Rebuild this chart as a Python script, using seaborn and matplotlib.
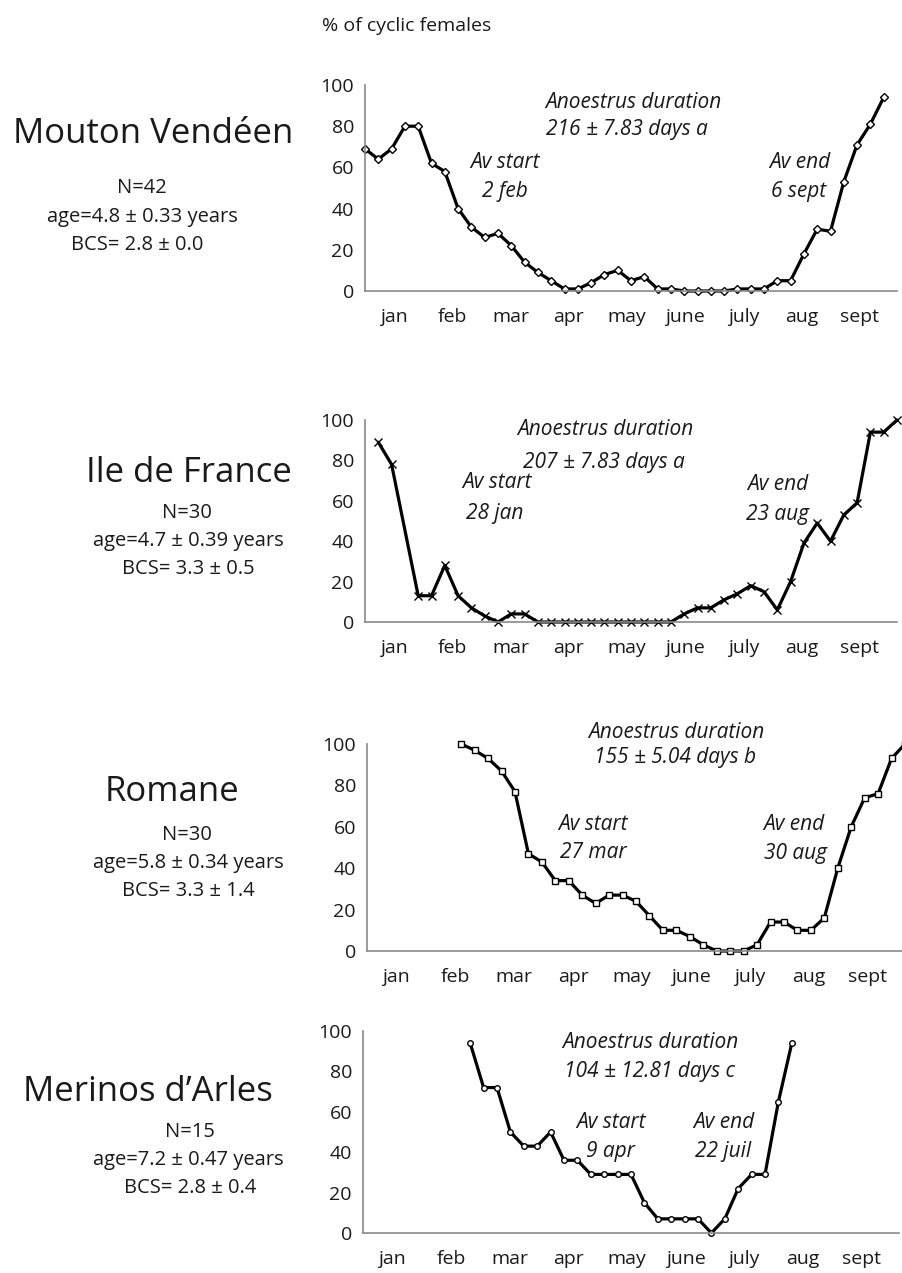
import matplotlib
matplotlib.use("Agg")
import matplotlib.pyplot as plt
import seaborn as sns

# weekly % of cyclic females, week 0 = 1 January
months = ["jan", "feb", "mar", "apr", "may", "june", "july", "aug", "sept"]

vendeen_weeks = list(range(0, 40))
vendeen_pct = [69, 64, 69, 80, 80, 62, 58, 40, 31, 26, 28, 22, 14, 9, 5, 1, 1, 4, 8, 10,
               5, 7, 1, 1, 0, 0, 0, 0, 1, 1, 1, 5, 5, 18, 30, 29, 53, 71, 81, 94]

idf_weeks = [1, 2] + list(range(4, 41))
idf_pct = [89, 78, 13, 13, 28, 13, 7, 3, 0, 4, 4, 0, 0, 0, 0, 0, 0, 0, 0, 0,
           0, 0, 4, 7, 7, 11, 14, 18, 15, 6, 20, 39, 49, 40, 53, 59, 94, 94, 100]

romane_weeks = list(range(7, 41))
romane_pct = [100, 97, 93, 87, 77, 47, 43, 34, 34, 27, 23, 27, 27, 24, 17, 10, 10, 7, 3, 0,
              0, 0, 3, 14, 14, 10, 10, 16, 40, 60, 74, 76, 93, 100]

merinos_weeks = list(range(8, 33))
merinos_pct = [94, 72, 72, 50, 43, 43, 50, 36, 36, 29, 29, 29, 29, 15, 7, 7, 7, 7, 0, 7,
               22, 29, 29, 65, 94]

breeds = ["Mouton Vendéen", "Ile de France", "Romane", "Merinos d\u2019Arles"]
n_ewes = ["N=42", "N=30", "N=30", "N=15"]
ages = ["age=4.8 ± 0.33 years", "age=4.7 ± 0.39 years", "age=5.8 ± 0.34 years", "age=7.2 ± 0.47 years"]
bcs = ["BCS= 2.8 ± 0.0", "BCS= 3.3 ± 0.5", "BCS= 3.3 ± 1.4", "BCS= 2.8 ± 0.4"]
durations = ["216 ± 7.83 days a", "207 ± 7.83 days a", "155 ± 5.04 days b", "104 ± 12.81 days c"]
av_start = ["2 feb", "28 jan", "27 mar", "9 apr"]
av_end = ["6 sept", "23 aug", "30 aug", "22 juil"]

series = [(vendeen_weeks, vendeen_pct), (idf_weeks, idf_pct),
          (romane_weeks, romane_pct), (merinos_weeks, merinos_pct)]
markers = ["D", "x", "s", "o"]

sns.set_style("white")
plt.rcParams["font.family"] = ["Open Sans", "DejaVu Sans"]

W, H = 902, 1273
fig = plt.figure(figsize=(W / 100, H / 100), dpi=100)

# panel boxes in pixels: left, top, width, height
boxes = [(365, 85, 532, 206), (365, 420, 532, 202), (367, 744, 538, 207), (363, 1031, 536, 202)]
# text anchors in pixels
left_pos = [[(153, 134), (142, 188), (142, 217), (137, 245)],
            [(189, 473), (187, 513), (188, 541), (188, 569)],
            [(172, 792), (187, 835), (188, 863), (188, 891)],
            [(148, 1092), (190, 1132), (188, 1160), (190, 1188)]]
ann_pos = [[(633, 102), (627, 130), (505, 162), (505, 192), (800, 162), (799, 192)],
           [(605, 430), (604, 462), (497, 483), (495, 513), (778, 484), (778, 514)],
           [(676, 732), (675, 758), (593, 825), (593, 853), (794, 825), (795, 853)],
           [(650, 1043), (649, 1072), (611, 1123), (610, 1152), (724, 1123), (723, 1152)]]

WPM = 4.376  # weeks per month on the axis
grey = "#8a8a8a"
ink = "#1a1a1a"


def ftext(x, y, s, **kw):
    fig.text(x / W, 1 - y / H, s, ha="center", va="center", color=ink, **kw)


for i, (weeks, pct) in enumerate(series):
    l, t, w, h = boxes[i]
    ax = fig.add_axes([l / W, 1 - (t + h) / H, w / W, h / H])
    mk = markers[i]
    kw = dict(marker=mk, markersize=4 if mk != "x" else 5.5, markeredgecolor="black",
              markeredgewidth=1.0, markerfacecolor="white" if mk != "x" else "black")
    sns.lineplot(x=weeks, y=pct, ax=ax, color="black", linewidth=2.3, clip_on=False, **kw)
    ax.set_xlim(0, 40)
    ax.set_ylim(0, 100)
    ax.set_yticks(range(0, 101, 20))
    ax.set_xticks([k * WPM for k in range(10)])
    ax.set_xticklabels([])
    ax.set_xticks([(k + 0.5) * WPM for k in range(9)], minor=True)
    ax.set_xticklabels(months, minor=True)
    ax.tick_params(axis="x", which="major", length=4, color=grey, width=1, direction="out")
    ax.tick_params(axis="x", which="minor", length=0, pad=12, labelsize=14, labelcolor=ink)
    ax.tick_params(axis="y", length=3, color=grey, width=1, direction="out", labelsize=14,
                   labelcolor=ink, pad=5)
    ax.set_xlabel("")
    ax.set_ylabel("")
    for s in ["top", "right"]:
        ax.spines[s].set_visible(False)
    for s in ["left", "bottom"]:
        ax.spines[s].set_color(grey)
        ax.spines[s].set_linewidth(1.2)
    ax.patch.set_alpha(0)

    lp = left_pos[i]
    ftext(*lp[0], breeds[i], fontsize=25)
    ftext(*lp[1], n_ewes[i], fontsize=14.5)
    ftext(*lp[2], ages[i], fontsize=14.5)
    ftext(*lp[3], bcs[i], fontsize=14.5)

    ap = ann_pos[i]
    texts = ["Anoestrus duration", durations[i], "Av start", av_start[i], "Av end", av_end[i]]
    for (x, y), s in zip(ap, texts):
        ftext(x, y, s, fontsize=15, style="italic")

ftext(407, 26, "% of cyclic females", fontsize=14)

fig.savefig("out.png", dpi=100)
